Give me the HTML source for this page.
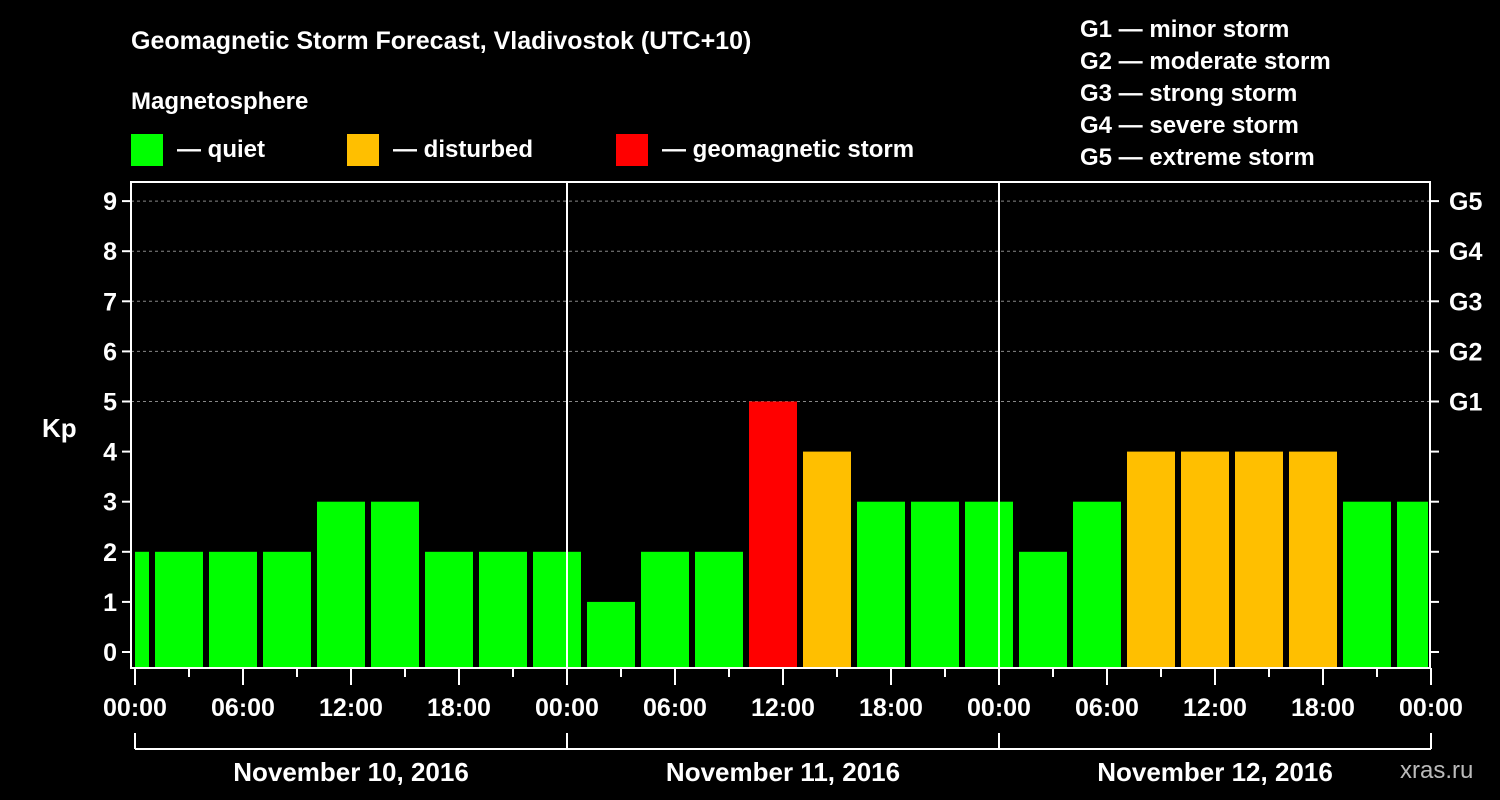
<!DOCTYPE html>
<html><head><meta charset="utf-8"><style>
html,body{margin:0;padding:0;background:#000;}
svg{display:block;font-family:"Liberation Sans",sans-serif;font-weight:bold;}
</style></head><body>
<svg id="chart" width="1500" height="800" viewBox="0 0 1500 800">
<rect width="1500" height="800" fill="#000"/>
<text x="131" y="49" fill="#fff" font-size="25">Geomagnetic Storm Forecast, Vladivostok (UTC+10)</text>
<text x="131" y="109" fill="#fff" font-size="24">Magnetosphere</text>
<rect x="131" y="134" width="32" height="32" fill="#00ff00"/>
<text x="177" y="157" fill="#fff" font-size="24">— quiet</text>
<rect x="347" y="134" width="32" height="32" fill="#ffbf00"/>
<text x="393" y="157" fill="#fff" font-size="24">— disturbed</text>
<rect x="616" y="134" width="32" height="32" fill="#ff0000"/>
<text x="662" y="157" fill="#fff" font-size="24">— geomagnetic storm</text>
<g fill="#fff" font-size="24">
<text x="1080" y="37">G1 — minor storm</text>
<text x="1080" y="69">G2 — moderate storm</text>
<text x="1080" y="101">G3 — strong storm</text>
<text x="1080" y="133">G4 — severe storm</text>
<text x="1080" y="165">G5 — extreme storm</text>
</g>
<text x="42" y="437" fill="#fff" font-size="26">Kp</text>
<text x="1400" y="778" fill="#bbb" font-size="24" font-weight="normal">xras.ru</text>
<g id="plot"></g>
</svg>
<script>
const dayLabels = ["November 10, 2016","November 11, 2016","November 12, 2016"];
const vals = [2, 2,2,2,3,3,2,2,2, 1,2,2,5,4,3,3,3, 2,3,4,4,4,4,3,3];
const barStartHour0 = -2;
const hourTicks = ["00:00","06:00","12:00","18:00"];
const gLabels = ["G1","G2","G3","G4","G5"];
const kpTicks = [0,1,2,3,4,5,6,7,8,9];

const X0=135, PXH=18, Y0=652, PXK=50.1, L=131, R=1430, T=182, B=668;
const xs = h => X0 + h*PXH;
const ys = k => Y0 - k*PXK;
const NS="http://www.w3.org/2000/svg";
const plot=document.getElementById('plot');
function mk(tag, attrs, parent){const e=document.createElementNS(NS,tag);for(const k in attrs)e.setAttribute(k,attrs[k]);(parent||plot).appendChild(e);return e;}

// grid lines for G levels
for(let k=5;k<=9;k++){
  const g=mk('line',{x1:L,x2:R,y1:ys(k),y2:ys(k),stroke:'#888','stroke-dasharray':'3,3','stroke-width':1});
  
  
}
// bars
vals.forEach((v,i)=>{
  const h=barStartHour0+3*i;
  let x1=xs(h)+2, x2=xs(h+3)-4;
  x1=Math.max(x1,L+4); x2=Math.min(x2,R-2);
  const c = v>=5?'#ff0000':(v>=4?'#ffbf00':'#00ff00');
  const b=mk('rect',{x:x1,y:ys(v),width:x2-x1,height:B-1-ys(v),fill:c});
  
  
});
// day separators
for(let d=1;d<3;d++){
  const s=mk('line',{x1:xs(24*d),x2:xs(24*d),y1:T,y2:B,stroke:'#fff','stroke-width':2});
  
  
}
// frame
const fr=mk('rect',{x:L,y:T,width:R-L,height:B-T,fill:'none',stroke:'#fff','stroke-width':2});


// y ticks/labels
kpTicks.forEach(k=>{
  const t=mk('line',{x1:L-9,x2:L,y1:ys(k),y2:ys(k),stroke:'#fff','stroke-width':2});
  
  
  const t2=mk('line',{x1:R,x2:R+9,y1:ys(k),y2:ys(k),stroke:'#fff','stroke-width':2});
  
  
  const lb=mk('text',{x:L-14,y:ys(k)+9,fill:'#fff','font-size':25,'text-anchor':'end'});
  lb.textContent=k;
  
  
});
gLabels.forEach((g,i)=>{
  const lb=mk('text',{x:R+19,y:ys(5+i)+9,fill:'#fff','font-size':25});
  lb.textContent=g;
  
  
});
// x ticks
for(let h=0;h<=72;h+=3){
  const major=h%6===0;
  const t=mk('line',{x1:xs(h),x2:xs(h),y1:B,y2:B+(major?17:9),stroke:'#fff','stroke-width':2});
  
  
  if(major){
    const lb=mk('text',{x:xs(h),y:716,fill:'#fff','font-size':25,'text-anchor':'middle'});
    lb.textContent=hourTicks[(h/6)%4];
    
    
  }
}
// date bracket
const bl=mk('line',{x1:xs(0),x2:xs(72),y1:749,y2:749,stroke:'#fff','stroke-width':2});


for(let d=0;d<=3;d++){
  const v=mk('line',{x1:xs(24*d),x2:xs(24*d),y1:733,y2:749,stroke:'#fff','stroke-width':2});
  
  
}
dayLabels.forEach((d,i)=>{
  const lb=mk('text',{x:xs(24*i+12),y:781,fill:'#fff','font-size':26,'text-anchor':'middle'});
  lb.textContent=d;
  
  
});
</script>
</body></html>
